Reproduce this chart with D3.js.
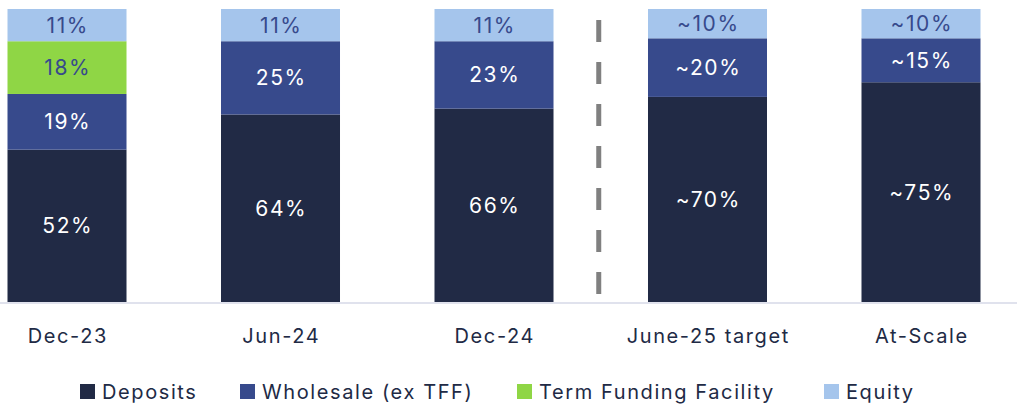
<!doctype html>
<html>
<head>
<script src="https://cdn.jsdelivr.net/npm/d3@7"></script>
<style>
  body { margin: 0; background: #fff; }
  svg { display: block; font-family: Inter, "Open Sans", sans-serif; }
</style>
</head>
<body>
<svg width="1017" height="404"></svg>
<script>
// funding mix by period, % of total
const categories = ["Dec-23", "Jun-24", "Dec-24", "June-25 target", "At-Scale"];
const deposits  = [52, 64, 66, 70, 75];
const wholesale = [19, 25, 23, 20, 15];
const tff       = [18, 0, 0, 0, 0];
const equity    = [11, 11, 11, 10, 10];
// labels as printed on the bars
const depositLabels   = ["52%", "64%", "66%", "~70%", "~75%"];
const wholesaleLabels = ["19%", "25%", "23%", "~20%", "~15%"];
const tffLabels       = ["18%", "", "", "", ""];
const equityLabels    = ["11%", "11%", "11%", "~10%", "~10%"];

const seriesNames = ["Deposits", "Wholesale (ex TFF)", "Term Funding Facility", "Equity"];
const colors = ["#212a45", "#374a8c", "#8fd645", "#a5c5ec"];
const textColors = ["#ffffff", "#ffffff", "#374a8c", "#374a8c"];

const rows = categories.map((c, i) => ({
  cat: c, dep: deposits[i], whl: wholesale[i], tff: tff[i], eq: equity[i],
  labels: [depositLabels[i], wholesaleLabels[i], tffLabels[i], equityLabels[i]]
}));
const keys = ["dep", "whl", "tff", "eq"];
const ls = 1.6; // letter spacing, the original font runs wider

const svg = d3.select("svg");

const x = d3.scaleBand().domain(categories).range([7.5, 980.5]).paddingInner(0.4426).paddingOuter(0);
const y = d3.scaleLinear().domain([0, 100]).range([302, 9]);

const stack = d3.stack().keys(keys)(rows);

// baseline
svg.append("line")
  .attr("x1", 0).attr("x2", 1017)
  .attr("y1", 303).attr("y2", 303)
  .attr("stroke", "#d6d9e7").attr("stroke-width", 1.5);

const layers = svg.selectAll("g.layer")
  .data(stack)
  .enter().append("g")
  .attr("class", "layer")
  .attr("fill", (d, i) => colors[i]);

layers.selectAll("rect")
  .data(d => d)
  .enter().append("rect")
  .attr("x", d => x(d.data.cat))
  .attr("width", x.bandwidth())
  .attr("y", d => y(d[1]))
  .attr("height", d => y(d[0]) - y(d[1]));

stack.forEach((layer, li) => {
  svg.append("g").selectAll("text")
    .data(layer.filter(d => d.data.labels[li] !== ""))
    .enter().append("text")
    .attr("x", d => x(d.data.cat) + x.bandwidth() / 2 + ls / 2)
    .attr("y", d => (y(d[0]) + y(d[1])) / 2)
    .attr("text-anchor", "middle")
    .attr("dominant-baseline", "central")
    .attr("font-size", 21)
    .attr("letter-spacing", ls)
    .attr("fill", textColors[li])
    .text(d => d.data.labels[li]);
});

// divider between actuals and targets
const divX = (x("Dec-24") + x.bandwidth() + x("June-25 target")) / 2 - 2;
svg.append("line")
  .attr("x1", divX).attr("x2", divX)
  .attr("y1", 20).attr("y2", 294)
  .attr("stroke", "#808080").attr("stroke-width", 5)
  .attr("stroke-dasharray", "22,20");

// category labels
svg.append("g").selectAll("text")
  .data(categories)
  .enter().append("text")
  .attr("x", d => x(d) + x.bandwidth() / 2 + ls / 2)
  .attr("y", 336)
  .attr("text-anchor", "middle")
  .attr("dominant-baseline", "central")
  .attr("font-size", 20)
  .attr("letter-spacing", ls)
  .attr("fill", "#212a45")
  .text(d => d);

// legend
const legendX = [80, 240, 517, 824];
const legend = svg.append("g").selectAll("g")
  .data(seriesNames)
  .enter().append("g")
  .attr("transform", (d, i) => `translate(${legendX[i]},384)`);
legend.append("rect")
  .attr("width", 15).attr("height", 15)
  .attr("fill", (d, i) => colors[i]);
legend.append("text")
  .attr("x", 22).attr("y", 7.5)
  .attr("dominant-baseline", "central")
  .attr("font-size", 20)
  .attr("letter-spacing", ls)
  .attr("fill", "#212a45")
  .text(d => d);
</script>
</body>
</html>
